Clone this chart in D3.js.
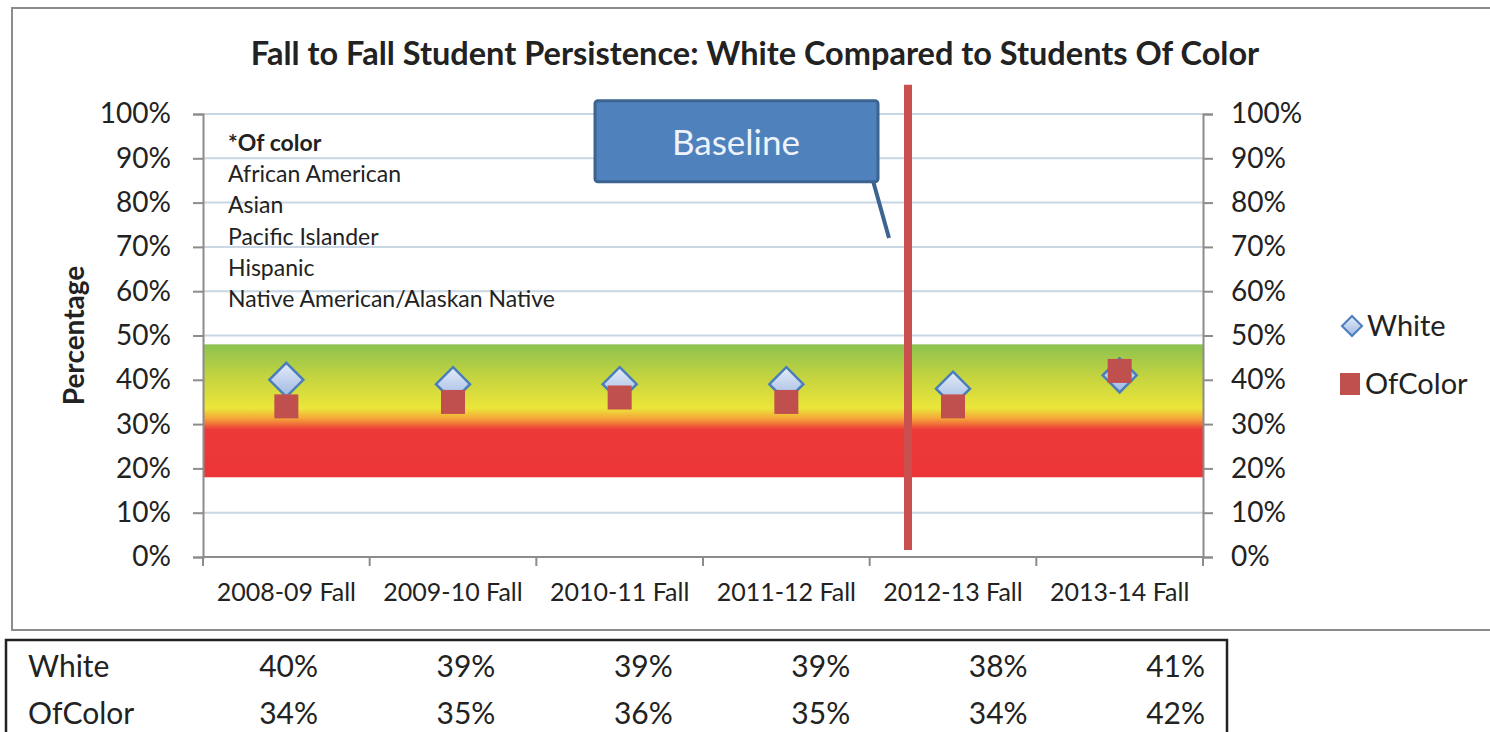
<!DOCTYPE html>
<html>
<head>
<meta charset="utf-8">
<script src="https://cdn.jsdelivr.net/npm/d3@7"></script>
<style>
  body { margin: 0; background: #fff; }
  svg { display: block; font-family: Lato, "Open Sans", sans-serif; }
</style>
</head>
<body>
<svg id="chart" width="1490" height="732"></svg>
<script>
// data
const categories = ["2008-09 Fall", "2009-10 Fall", "2010-11 Fall", "2011-12 Fall", "2012-13 Fall", "2013-14 Fall"];
const white = [0.40, 0.39, 0.39, 0.39, 0.38, 0.41];
const ofColor = [0.34, 0.35, 0.36, 0.35, 0.34, 0.42];
const seriesNames = ["White", "OfColor"];
const yTicks = [0, 0.1, 0.2, 0.3, 0.4, 0.5, 0.6, 0.7, 0.8, 0.9, 1.0];
const targetBand = [0.18, 0.48];
const baselineIndex = 3.73;      // between 2011-12 and 2012-13, in category units
const noteLines = ["African American", "Asian", "Pacific Islander", "Hispanic", "Native American/Alaskan Native"];

const svg = d3.select("#chart");
const margin = {left: 203, right: 1203, top: 114, bottom: 557};

const x = d3.scaleBand().domain(categories).range([margin.left, margin.right]);
const xi = d3.scaleLinear().domain([0, categories.length - 1])
  .range([x(categories[0]) + x.bandwidth() / 2, x(categories[categories.length - 1]) + x.bandwidth() / 2]);
const y = d3.scaleLinear().domain([0, 1]).range([margin.bottom, margin.top]);
const pct = d3.format(".0%");

// outer chart frame
svg.append("rect").attr("x", 12).attr("y", 8).attr("width", 1490).attr("height", 622)
  .attr("fill", "none").attr("stroke", "#8c8c8c").attr("stroke-width", 2);

// title
svg.append("text").attr("x", 755).attr("y", 65).attr("text-anchor", "middle")
  .attr("font-size", 32.5).attr("font-weight", "bold").attr("fill", "#222")
  .text("Fall to Fall Student Persistence: White Compared to Students Of Color");

// gradient for the target band
const defs = svg.append("defs");
const grad = defs.append("linearGradient").attr("id", "band").attr("x1", 0).attr("x2", 0).attr("y1", 0).attr("y2", 1);
[["0%", "#8dc24f"], ["25%", "#c5d43f"], ["48%", "#ece63a"], ["56%", "#f5a33a"], ["64%", "#ec3a38"], ["100%", "#ec3537"]]
  .forEach(s => grad.append("stop").attr("offset", s[0]).attr("stop-color", s[1]));
const dgrad = defs.append("linearGradient").attr("id", "dia").attr("x1", 0).attr("x2", 0).attr("y1", 0).attr("y2", 1);
dgrad.append("stop").attr("offset", "0%").attr("stop-color", "#e4ecf8");
dgrad.append("stop").attr("offset", "100%").attr("stop-color", "#9fb8e3");

// gridlines
svg.append("g").selectAll("line").data(yTicks.slice(1)).join("line")
  .attr("x1", margin.left).attr("x2", margin.right)
  .attr("y1", d => y(d)).attr("y2", d => y(d))
  .attr("stroke", "#c9d6e3").attr("stroke-width", 2);

// band
svg.append("rect")
  .attr("x", margin.left).attr("width", margin.right - margin.left)
  .attr("y", y(targetBand[1])).attr("height", y(targetBand[0]) - y(targetBand[1]))
  .attr("fill", "url(#band)");

// axes
const leftAxis = svg.append("g").attr("transform", "translate(" + [margin.left, 0] + ")")
  .call(d3.axisLeft(y).tickValues(yTicks).tickFormat(pct).tickSize(10).tickPadding(22));
const rightAxis = svg.append("g").attr("transform", "translate(" + [margin.right, 0] + ")")
  .call(d3.axisRight(y).tickValues(yTicks).tickFormat(pct).tickSize(10).tickPadding(18));
const bottomAxis = svg.append("g").attr("transform", "translate(" + [0, margin.bottom] + ")")
  .call(d3.axisBottom(x).tickSize(0).tickPadding(26));
[leftAxis, rightAxis, bottomAxis].forEach(g => {
  g.select(".domain").attr("stroke", "#8c8c8c").attr("stroke-width", 2);
  g.selectAll(".tick line").attr("stroke", "#8c8c8c").attr("stroke-width", 2);
  g.selectAll("text").attr("font-family", "Lato, sans-serif").attr("fill", "#222");
});
leftAxis.selectAll("text").attr("font-size", 28);
rightAxis.selectAll("text").attr("font-size", 28);
bottomAxis.selectAll("text").attr("font-size", 25);
bottomAxis.select(".domain").attr("d", "M" + margin.left + ",0H" + margin.right);

// category boundary ticks
svg.append("g").selectAll("line").data(categories.map(c => x(c)).concat([margin.right])).join("line")
  .attr("x1", d => d).attr("x2", d => d)
  .attr("y1", margin.bottom).attr("y2", margin.bottom + 9)
  .attr("stroke", "#8c8c8c").attr("stroke-width", 2);

// y label
svg.append("text").attr("transform", "translate(84," + y(0.5) + ") rotate(-90)")
  .attr("text-anchor", "middle").attr("font-size", 28).attr("font-weight", "bold").attr("fill", "#222")
  .text("Percentage");

// note text box
const note = svg.append("g").attr("font-size", 23).attr("fill", "#222");
note.append("text").attr("x", 228).attr("y", 151).attr("font-weight", "bold").text("*Of color");
note.selectAll("text.l").data(noteLines).join("text").attr("class", "l")
  .attr("x", 228).attr("y", (d, i) => 182 + i * 31.3).text(d => d);

// markers: diamonds for White, squares for OfColor on top
const dSize = 17;
svg.append("g").selectAll("path").data(white).join("path")
  .attr("transform", (d, i) => "translate(" + [x(categories[i]) + x.bandwidth() / 2, y(d)] + ")")
  .attr("d", "M0," + (-dSize) + "L" + dSize + ",0L0," + dSize + "L" + (-dSize) + ",0Z")
  .attr("fill", "url(#dia)").attr("stroke", "#4a7ebb").attr("stroke-width", 2.5);
const sq = 24;
svg.append("g").selectAll("rect").data(ofColor).join("rect")
  .attr("x", (d, i) => x(categories[i]) + x.bandwidth() / 2 - sq / 2)
  .attr("y", d => y(d) - sq / 2)
  .attr("width", sq).attr("height", sq)
  .attr("fill", "#c0504d");

// baseline line
const bx = xi(baselineIndex);
svg.append("line").attr("x1", bx).attr("x2", bx).attr("y1", y(1.066)).attr("y2", y(0.016))
  .attr("stroke", "#c9504f").attr("stroke-width", 8);

// callout
const callout = svg.append("g");
const boxTop = y(1.03);
callout.append("line").attr("x1", bx - 35).attr("y1", boxTop + 80).attr("x2", bx - 19).attr("y2", y(0.72))
  .attr("stroke", "#3d6490").attr("stroke-width", 4);
callout.append("rect").attr("x", bx - 313).attr("y", boxTop).attr("width", 283).attr("height", 81)
  .attr("rx", 3).attr("fill", "#4f81bd").attr("stroke", "#3d6490").attr("stroke-width", 3);
callout.append("text").attr("x", bx - 172).attr("y", boxTop + 54).attr("text-anchor", "middle")
  .attr("font-size", 35).attr("fill", "#eef3fa").text("Baseline");

// legend
const legend = svg.append("g").attr("font-size", 29).attr("fill", "#222");
legend.append("path").attr("transform", "translate(1352,326)")
  .attr("d", "M0,-10L10,0L0,10L-10,0Z").attr("fill", "url(#dia)").attr("stroke", "#4a7ebb").attr("stroke-width", 2);
legend.append("text").attr("x", 1367).attr("y", 336).text(seriesNames[0]);
legend.append("rect").attr("x", 1340).attr("y", 373).attr("width", 20).attr("height", 22).attr("fill", "#c0504d");
legend.append("text").attr("x", 1365).attr("y", 394).text(seriesNames[1]);

// data table
svg.append("rect").attr("x", 6).attr("y", 640).attr("width", 1221).attr("height", 100)
  .attr("fill", "none").attr("stroke", "#222").attr("stroke-width", 2.5);
const colRight = d3.scaleLinear().domain([0, categories.length - 1]).range([318, 1205]);
const rows = [white, ofColor];
rows.forEach((vals, r) => {
  const ry = 677 + r * 47;
  svg.append("text").attr("x", 28).attr("y", ry).attr("font-size", 30).attr("fill", "#222").text(seriesNames[r]);
  svg.append("g").selectAll("text").data(vals).join("text")
    .attr("x", (d, i) => colRight(i)).attr("y", ry).attr("text-anchor", "end")
    .attr("font-size", 30).attr("fill", "#222").text(d => pct(d));
});
</script>
</body>
</html>
